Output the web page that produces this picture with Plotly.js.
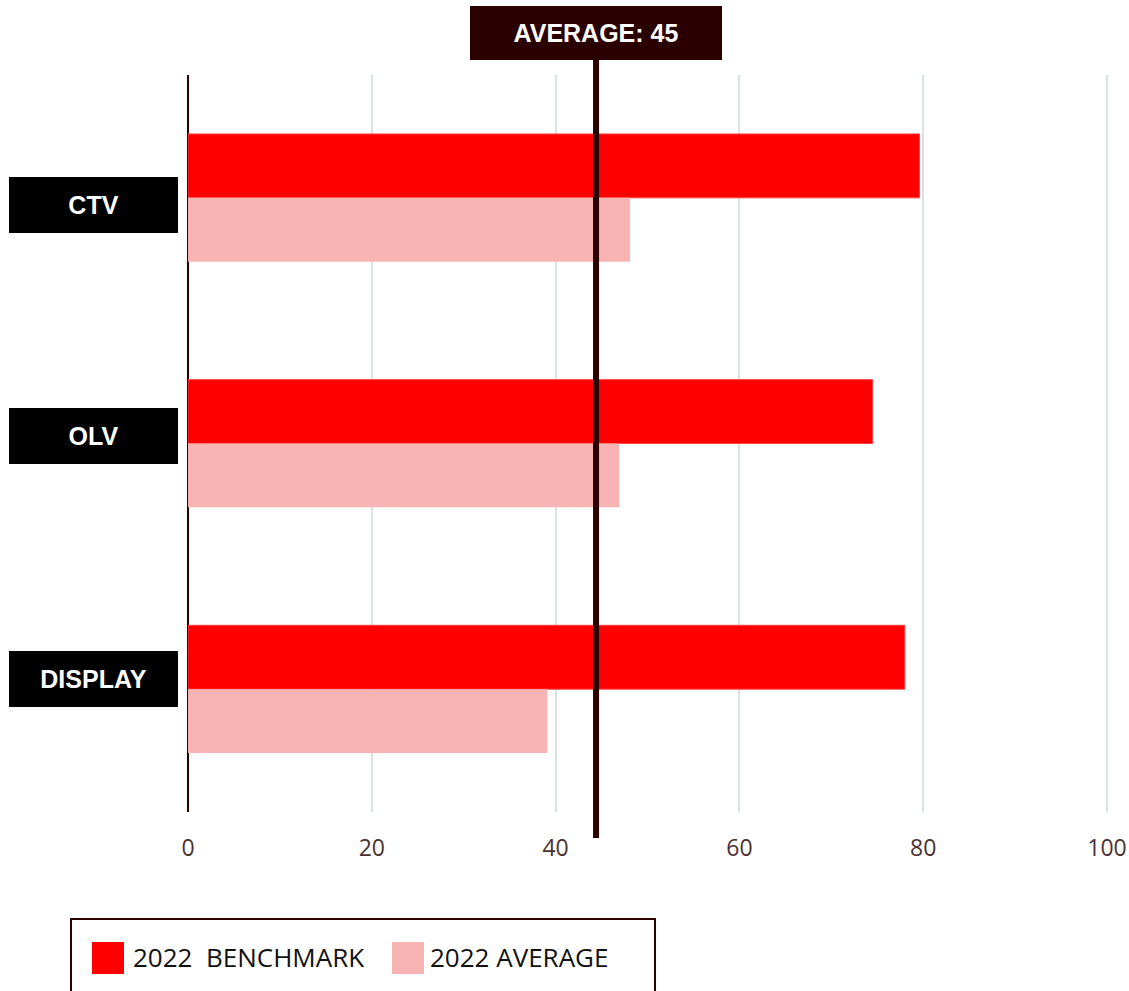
<!DOCTYPE html>
<html>
<head>
<meta charset="utf-8">
<script src="https://cdn.plot.ly/plotly-3.0.1.min.js"></script>
<style>html,body{margin:0;padding:0;background:#fff;}#chart{width:1129px;height:991px;}</style>
</head>
<body>
<div id="chart"></div>
<script>
// ---- data ----
const categories = ["CTV", "OLV", "DISPLAY"];
const benchmark2022 = [79.6, 74.5, 78.0];
const average2022 = [48.1, 46.9, 39.1];
const seriesNames = ["2022  BENCHMARK", "2022 AVERAGE"];
const averageLineValue = 44.4;
const averageLabel = "AVERAGE: 45";
const xTickValues = [0, 20, 40, 60, 80, 100];

// ---- styling ----
const RED = "#ff0000";
const PINK = "#f8b4b3";
const DARK = "#2a0000";
const labelShift = [-7, 8, 10]; // vertical nudge of category label boxes (px)

// pixel -> paper helpers (layout only)
const L = 188, R = 1110, T = 75, B = 812;
const XMAX = 100 * (R - L) / 919;
const PX = v => (v - L) / (R - L);
const PY = v => (B - v) / (B - T);

const traces = [
  {type: "bar", orientation: "h", name: seriesNames[0], y: categories, x: benchmark2022,
   marker: {color: RED, line: {color: "#ff4040", width: 1}}, hoverinfo: "x"},
  {type: "bar", orientation: "h", name: seriesNames[1], y: categories, x: average2022,
   marker: {color: PINK, line: {color: PINK, width: 0}}, hoverinfo: "x"}
];

const BOXFONT = "Liberation Sans, Arial, sans-serif";

const annotations = categories.map((c, i) => ({
  xref: "paper", yref: "y", x: PX(93.5), y: c, xanchor: "center", yanchor: "middle",
  yshift: labelShift[i],
  text: "<b>" + c + "</b>", showarrow: false,
  font: {family: BOXFONT, size: 25, color: "#ffffff"},
  bgcolor: "#000000", borderwidth: 0, borderpad: 0, width: 169, height: 56, align: "center", valign: "middle"
}));

annotations.push({
  xref: "x", yref: "paper", x: averageLineValue, y: PY(33), xanchor: "center", yanchor: "middle",
  text: "<b>" + averageLabel + "</b>", showarrow: false,
  font: {family: BOXFONT, size: 25, color: "#ffffff"},
  bgcolor: DARK, borderwidth: 0, borderpad: 0, width: 252, height: 54, align: "center", valign: "middle"
});

// custom legend texts
annotations.push({
  xref: "paper", yref: "paper", x: PX(131), y: PY(957), xanchor: "left", yanchor: "middle",
  text: seriesNames[0].replace(/ /g, "&nbsp;"), showarrow: false,
  font: {family: "Open Sans, Noto Sans, sans-serif", size: 26, color: "#111111"}
});
annotations.push({
  xref: "paper", yref: "paper", x: PX(428), y: PY(957), xanchor: "left", yanchor: "middle",
  text: seriesNames[1], showarrow: false,
  font: {family: "Open Sans, Noto Sans, sans-serif", size: 26, color: "#111111"}
});

const shapes = [
  {type: "line", xref: "x", yref: "paper", x0: averageLineValue, x1: averageLineValue,
   y0: PY(838), y1: PY(58), line: {color: DARK, width: 6}},
  // legend frame
  {type: "rect", xref: "paper", yref: "paper", x0: PX(71), x1: PX(655), y0: PY(919), y1: PY(1005),
   line: {color: DARK, width: 2}, fillcolor: "rgba(0,0,0,0)"},
  {type: "rect", xref: "paper", yref: "paper", x0: PX(92), x1: PX(124), y0: PY(942), y1: PY(974),
   line: {width: 0}, fillcolor: RED},
  {type: "rect", xref: "paper", yref: "paper", x0: PX(392), x1: PX(424), y0: PY(942), y1: PY(974),
   line: {width: 0}, fillcolor: PINK}
];

const layout = {
  width: 1129, height: 991,
  margin: {l: L, r: 1129 - R, t: T, b: 991 - B, pad: 0},
  paper_bgcolor: "#ffffff", plot_bgcolor: "#ffffff",
  barmode: "group", bargap: 0.48, bargroupgap: 0,
  showlegend: false,
  xaxis: {
    range: [0, XMAX], tickvals: xTickValues, ticktext: xTickValues.map(String),
    showgrid: true, gridcolor: "#d9e2e5", gridwidth: 2,
    zeroline: true, zerolinecolor: DARK, zerolinewidth: 2,
    showline: false, ticks: "outside", ticklen: 15, tickcolor: "rgba(0,0,0,0)",
    tickfont: {family: "Open Sans, Noto Sans, sans-serif", size: 23, color: "#4a3232"},
    fixedrange: true
  },
  yaxis: {
    type: "category", categoryorder: "array", categoryarray: categories,
    autorange: "reversed", showticklabels: false, showgrid: false, zeroline: false,
    showline: false, ticks: "", fixedrange: true
  },
  annotations: annotations,
  shapes: shapes
};

Plotly.newPlot("chart", traces, layout, {displayModeBar: false, staticPlot: true});
</script>
</body>
</html>
